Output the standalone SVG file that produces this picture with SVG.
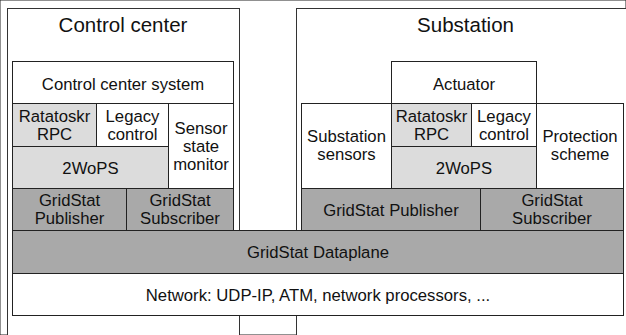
<svg xmlns="http://www.w3.org/2000/svg" width="626" height="335" viewBox="0 0 626 335">
<style>
rect{stroke:#222;stroke-width:1}
.o{fill:#fff;stroke:#333}
.w{fill:#fff}
.l{fill:#dcdcdc}
.d{fill:#a9a9a9}
text{font-family:"Liberation Sans",Arial,sans-serif;font-size:16.7px;fill:#111;text-anchor:middle}
.h{font-size:20.5px}
</style>
<rect width="626" height="335" fill="#fff" stroke="none"/>
<g id="control-center">
<rect class="o" x="7.5" y="8.5" width="232" height="340"/>
<text class="h" x="123" y="31.5">Control center</text>
</g>
<g id="substation">
<rect class="o" x="296.5" y="8.5" width="340" height="340"/>
<text class="h" x="465.5" y="31.5">Substation</text>
</g>
<g id="cc-system">
<rect class="w" x="12.5" y="61.5" width="221" height="42"/>
<text x="123" y="89.5">Control center system</text>
</g>
<g id="cc-ratatoskr">
<rect class="l" x="12.5" y="103.5" width="84" height="43"/>
<text x="54.5" y="121.5">Ratatoskr</text>
<text x="54.5" y="139.5">RPC</text>
</g>
<g id="cc-legacy">
<rect class="w" x="96.5" y="103.5" width="72" height="43"/>
<text x="132.5" y="121.5">Legacy</text>
<text x="132.5" y="139.5">control</text>
</g>
<g id="cc-sensor-monitor">
<rect class="w" x="168.5" y="103.5" width="65" height="85"/>
<text x="201" y="134">Sensor</text>
<text x="201" y="152">state</text>
<text x="201" y="170">monitor</text>
</g>
<g id="cc-2wops">
<rect class="l" x="12.5" y="146.5" width="156" height="42"/>
<text x="90.5" y="173.5">2WoPS</text>
</g>
<g id="cc-publisher">
<rect class="d" x="12.5" y="188.5" width="114" height="42"/>
<text x="69.5" y="206">GridStat</text>
<text x="69.5" y="224">Publisher</text>
</g>
<g id="cc-subscriber">
<rect class="d" x="126.5" y="188.5" width="107" height="42"/>
<text x="180" y="206">GridStat</text>
<text x="180" y="224">Subscriber</text>
</g>
<g id="ss-actuator">
<rect class="w" x="391.5" y="61.5" width="145" height="42"/>
<text x="464" y="89.5">Actuator</text>
</g>
<g id="ss-sensors">
<rect class="w" x="301.5" y="103.5" width="90" height="85"/>
<text x="346.5" y="142">Substation</text>
<text x="346.5" y="160">sensors</text>
</g>
<g id="ss-ratatoskr">
<rect class="l" x="391.5" y="103.5" width="80" height="43"/>
<text x="431.5" y="121.5">Ratatoskr</text>
<text x="431.5" y="139.5">RPC</text>
</g>
<g id="ss-legacy">
<rect class="w" x="471.5" y="103.5" width="65" height="43"/>
<text x="504" y="121.5">Legacy</text>
<text x="504" y="139.5">control</text>
</g>
<g id="ss-2wops">
<rect class="l" x="391.5" y="146.5" width="145" height="42"/>
<text x="464" y="173.5">2WoPS</text>
</g>
<g id="ss-protection">
<rect class="w" x="536.5" y="103.5" width="87" height="85"/>
<text x="580" y="142">Protection</text>
<text x="580" y="160">scheme</text>
</g>
<g id="ss-publisher">
<rect class="d" x="301.5" y="188.5" width="179" height="42"/>
<text x="391" y="215.5">GridStat Publisher</text>
</g>
<g id="ss-subscriber">
<rect class="d" x="480.5" y="188.5" width="143" height="42"/>
<text x="552" y="206">GridStat</text>
<text x="552" y="224">Subscriber</text>
</g>
<g id="dataplane">
<rect class="d" x="12.5" y="230.5" width="611" height="43"/>
<text x="318" y="258">GridStat Dataplane</text>
</g>
<g id="network">
<rect class="w" x="12.5" y="273.5" width="611" height="42"/>
<text x="318" y="300.5">Network: UDP-IP, ATM, network processors, ...</text>
</g>
<g id="connectors"/>
</svg>
